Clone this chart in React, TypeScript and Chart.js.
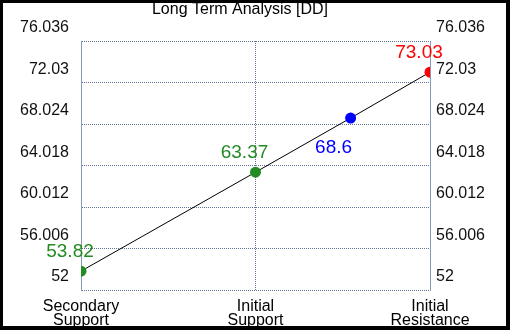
import React, { useEffect, useRef } from "react";
import { Chart, registerables } from "chart.js";

Chart.register(...registerables);

const titleText = "Long Term Analysis [DD]";
const categories = ["Secondary Support", "Initial Support", "Initial Resistance"];
const categoryX = [0, 1, 2];
const pointX = [0, 1, 1.545, 2];
const pointValues = [53.82, 63.37, 68.6, 73.03];
const pointColors = ["#228b22", "#228b22", "#0000ff", "#ff0000"];
const labelSides = ["above", "above", "below", "above"];
const yTicks = [52, 56.006, 60.012, 64.018, 68.024, 72.03, 76.036];

const FONT = "'Liberation Sans', Arial, sans-serif";
const gridColor = "#5f7396";
const axisColor = "#8599b8";

const titlePlugin = {
  id: "customTitle",
  afterDraw(chart: any) {
    const ctx = chart.ctx;
    ctx.save();
    ctx.font = `16px ${FONT}`;
    ctx.fillStyle = "#000";
    ctx.textAlign = "center";
    ctx.textBaseline = "middle";
    ctx.fillText(titleText, 240, 10);
    ctx.restore();
  },
};

const pointLabelPlugin = {
  id: "pointLabels",
  afterDatasetsDraw(chart: any) {
    const ctx = chart.ctx;
    const meta = chart.getDatasetMeta(0);
    ctx.save();
    ctx.font = `19px ${FONT}`;
    ctx.textAlign = "center";
    ctx.textBaseline = "middle";
    meta.data.forEach((el: any, i: number) => {
      ctx.fillStyle = pointColors[i];
      const below = labelSides[i] === "below";
      const dx = below ? -17 : -11;
      const dy = below ? 30 : -19.5;
      ctx.fillText(String(pointValues[i]), el.x + dx, el.y + dy);
    });
    ctx.restore();
  },
};

export default function App() {
  const ref = useRef<HTMLCanvasElement | null>(null);

  useEffect(() => {
    if (!ref.current) return;
    const yAxisCommon = {
      type: "linear" as const,
      min: yTicks[0],
      max: yTicks[yTicks.length - 1],
      afterBuildTicks(axis: any) {
        axis.ticks = yTicks.map((v) => ({ value: v }));
      },
    };
    const chart = new Chart(ref.current, {
      type: "line",
      data: {
        datasets: [
          {
            data: pointX.map((x, i) => ({ x, y: pointValues[i] })),
            borderColor: "#000",
            borderWidth: 1,
            pointBackgroundColor: pointColors,
            pointBorderColor: pointColors,
            pointRadius: 5.5,
            pointBorderWidth: 0,
            tension: 0,
            fill: false,
          },
        ],
      },
      options: {
        responsive: false,
        animation: false,
        layout: { padding: { top: 41, left: 0, right: 0, bottom: 0 } },
        plugins: {
          legend: { display: false },
          title: { display: false },
          tooltip: { enabled: false },
        },
        scales: {
          x: {
            type: "linear",
            min: 0,
            max: 2,
            afterBuildTicks(axis: any) {
              axis.ticks = categoryX.map((v) => ({ value: v }));
            },
            afterFit(axis: any) {
              axis.height = 40;
            },
            ticks: {
              autoSkip: false,
              maxRotation: 0,
              minRotation: 0,
              padding: 9,
              color: "#000",
              font: { family: FONT, size: 16, lineHeight: 0.9 },
              callback: (value: any) => {
                const idx = categoryX.indexOf(Number(value));
                return idx >= 0 ? categories[idx].split(" ") : "";
              },
            },
            grid: {
              display: true,
              drawTicks: false,
              color: gridColor,
              lineWidth: 1,
            },
            border: { display: false, dash: [1, 1] },
          },
          y: {
            ...yAxisCommon,
            position: "left",
            afterFit(axis: any) {
              axis.width = 81;
            },
            ticks: {
              padding: 12,
              labelOffset: -13,
              color: "#111",
              font: { family: FONT, size: 16 },
              callback: (v: any) => String(v),
            },
            grid: {
              display: true,
              drawTicks: false,
              color: gridColor,
              lineWidth: 1,
            },
            border: { display: true, color: axisColor, width: 1, dash: [1, 1] },
          },
          y2: {
            ...yAxisCommon,
            position: "right",
            afterFit(axis: any) {
              axis.width = 80;
            },
            ticks: {
              padding: 6,
              labelOffset: -13,
              color: "#111",
              font: { family: FONT, size: 16 },
              callback: (v: any) => String(v),
            },
            grid: { display: false, drawTicks: false },
            border: { display: true, color: axisColor, width: 1 },
          },
        },
      },
      plugins: [titlePlugin, pointLabelPlugin],
    } as any);
    return () => chart.destroy();
  }, []);

  return (
    <div style={{ position: "fixed", left: 0, top: 0, width: 510, height: 330, background: "#fff" }}>
      <canvas ref={ref} width={510} height={330} style={{ position: "absolute", left: 0, top: 0, width: 510, height: 330 }} />
      <div
        style={{
          position: "absolute",
          left: 0,
          top: 0,
          width: 510,
          height: 330,
          boxSizing: "border-box",
          borderStyle: "solid",
          borderColor: "#000",
          borderWidth: "3px 4px 4px 3px",
          pointerEvents: "none",
        }}
      />
    </div>
  );
}
